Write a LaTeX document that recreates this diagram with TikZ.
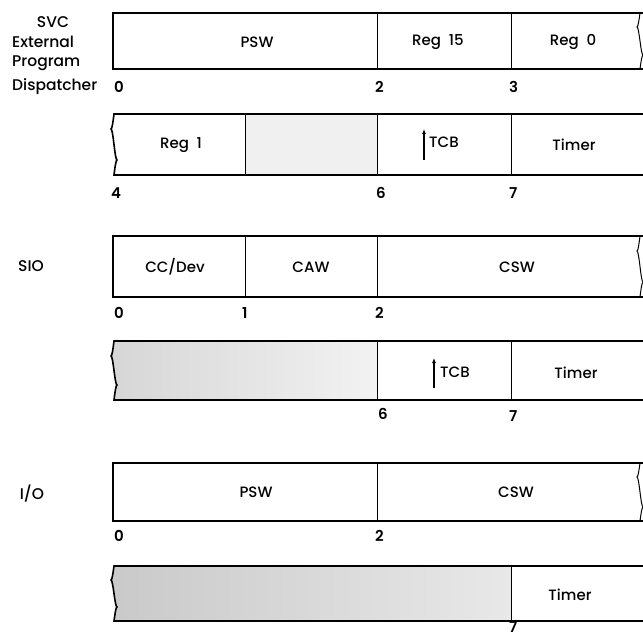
\documentclass[tikz,border=0pt]{standalone}
\usepackage{fontspec}
\setmainfont{Poppins}[UprightFont={* Medium}, BoldFont={* SemiBold}]
\usetikzlibrary{arrows.meta}
\begin{document}
\begin{tikzpicture}[x=1pt,y=-1pt,
  outline/.style={line width=1.6pt},
  divider/.style={line width=1pt},
  txt/.style={font=\fontsize{15}{17}\selectfont, inner sep=0pt},
  num/.style={font=\fontsize{15}{17}\selectfont\bfseries, inner sep=0pt, anchor=west},
  sidelbl/.style={font=\fontsize{15.5}{18}\selectfont, inner sep=0pt},
  stip/.style={left color=#1, right color=gray!10},
  ptr/.style={-{Latex[length=5pt,width=4pt]}, line width=1.2pt}]
\useasboundingbox (0,0) rectangle (643,637);

% ---------- side labels
\node[sidelbl] (svc) at (53,22) {SVC};
\node[sidelbl, anchor=west] (ext) at (12,42) {External};
\node[sidelbl, anchor=west] (prg) at (12,63) {Program};
\node[sidelbl, anchor=west] (dsp) at (12,87) {Dispatcher};
\node[sidelbl] (sio) at (31,266) {SIO};
\node[sidelbl] (io) at (32,494) {I/O};

% ---------- Row 1
\draw[outline] (643,13) -- (113,13) -- (113,69) -- (643,69);
\draw[divider] (377,13) -- (377,69) (511,13) -- (511,69);
\draw[divider] (640,13) sin (637,27) cos (640,41) sin (643,55) cos (640,69);
\node[txt] (psw1) at (257,42) {PSW};
\node[txt] (r15) at (438,42) {Reg\ \ 15};
\node[txt] (r0) at (573,42) {Reg\ \ 0};
\node[num] (n10) at (114,87) {0};
\node[num] (n12) at (375,87) {2};
\node[num] (n13) at (509,87) {3};

% ---------- Row 2
\fill[gray!12] (245,115) rectangle (377,174);
\draw[outline] (643,114) -- (114,114) sin (111,129) cos (114,144.5) sin (117,160) cos (114,175) -- (643,175);
\draw[divider] (245,114) -- (245,175) (377,114) -- (377,175) (511,114) -- (511,175);
\node[txt] (r1) at (181,145) {Reg\ \ 1};
\coordinate (a2s) at (424,160);
\coordinate (a2e) at (424,129);
\draw[ptr] (a2s) -- (a2e);
\node[txt, anchor=west] (tcb2) at (429,142) {TCB};
\node[txt] (tim2) at (574,145) {Timer};
\node[num] (n24) at (111,193) {4};
\node[num] (n26) at (376,193) {6};
\node[num] (n27) at (509,193) {7};

% ---------- Row 3
\draw[outline] (643,236) -- (113,236) -- (113,297) -- (643,297);
\draw[divider] (245,236) -- (245,297) (377,236) -- (377,297);
\draw[divider] (640,236) sin (637,251) cos (640,266.5) sin (643,282) cos (640,297);
\node[txt] (ccdev) at (175,267) {CC/Dev};
\node[txt] (caw) at (311,267) {CAW};
\node[txt] (csw3) at (517,267) {CSW};
\node[num] (n30) at (114,313) {0};
\node[num] (n31) at (242,313) {1};
\node[num] (n32) at (375,313) {2};

% ---------- Row 4
\shade[stip=gray!32] (114,342) sin (111,356) cos (114,370.5) sin (117,385) cos (114,400) -- (377,400) -- (377,342) -- cycle;
\draw[outline] (643,341) -- (114,341) sin (111,356) cos (114,370.5) sin (117,385) cos (114,400) -- (643,400);
\draw[divider] (377,341) -- (377,400) (511,341) -- (511,400);
\coordinate (a4s) at (434,388);
\coordinate (a4e) at (434,358);
\draw[ptr] (a4s) -- (a4e);
\node[txt, anchor=west] (tcb4) at (440,372) {TCB};
\node[txt] (tim4) at (576,373) {Timer};
\node[num] (n46) at (378,414) {6};
\node[num] (n47) at (509,416) {7};

% ---------- Row 5
\draw[outline] (643,463) -- (113,463) -- (113,521) -- (643,521);
\draw[divider] (377,463) -- (377,521);
\draw[divider] (640,463) sin (637,477) cos (640,492) sin (643,507) cos (640,521);
\node[txt] (psw5) at (256,492) {PSW};
\node[txt] (csw5) at (516,492) {CSW};
\node[num] (n50) at (114,536) {0};
\node[num] (n52) at (375,536) {2};

% ---------- Row 6
\shade[left color=gray!42, right color=gray!18] (114,567) sin (111,580) cos (114,593.5) sin (117,607) cos (114,620) -- (511,620) -- (511,567) -- cycle;
\draw[outline] (643,566) -- (114,566) sin (111,580) cos (114,593.5) sin (117,607) cos (114,621) -- (643,621);
\draw[divider] (511,566) -- (511,621);
\node[txt] (tim6) at (570,595) {Timer};
\node[num] (n67) at (509,627) {7};
\end{tikzpicture}
\end{document}
